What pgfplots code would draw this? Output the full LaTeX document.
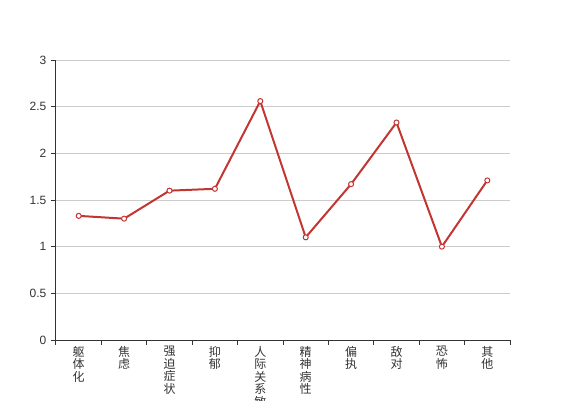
\documentclass[border=0pt]{standalone}
\usepackage{pgfplots}
\pgfplotsset{compat=1.18}
\usepackage{fontspec}
\setmainfont{Liberation Sans}
\newfontfamily\cjk{Noto Sans CJK SC}
\definecolor{ecred}{HTML}{C23531}
\definecolor{axgray}{HTML}{333333}
\definecolor{gridgray}{HTML}{CCCCCC}

\begin{document}
\begin{tikzpicture}[x=1pt,y=1pt]
\path[use as bounding box] (-42,-45) rectangle (383.25,255);
\clip (-42,-45) rectangle (383.25,255);
\begin{axis}[at={(0,0)}, anchor=south west,
  scale only axis, width=340.5pt, height=210pt,
  xmin=0, xmax=10, ymin=0, ymax=3,
  axis x line*=bottom, axis y line*=left,
  axis line style={axgray, line width=0.75pt},
  xtick={0,1,...,10}, xticklabels={},
  extra x ticks={0.5,1.5,...,9.5},
  extra x tick labels={躯\\体\\化, 焦\\虑, 强\\迫\\症\\状, 抑\\郁, 人\\际\\关\\系\\敏\\感,
    精\\神\\病\\性, 偏\\执, 敌\\对, 恐\\怖, 其\\他},
  extra x tick style={major tick length=0pt,
    xticklabel style={font=\cjk\fontsize{9}{9.4}\selectfont, align=center, text=axgray, yshift=-1pt}},
  ytick={0,0.5,...,3},
  yticklabel style={font=\fontsize{9}{10}\selectfont, text=axgray},
  tick style={axgray, line width=0.75pt},
  major tick length=3.75pt,
  tick align=outside,
  /pgf/number format/assume math mode=true,
  ymajorgrids, major grid style={gridgray, line width=0.75pt},
  clip=false]
\addplot[ecred, line width=1.5pt, mark=*, mark size=1.9pt,
  mark options={fill=white, draw=ecred, line width=0.75pt}] coordinates
  {(0.5,1.33)(1.5,1.30)(2.5,1.60)(3.5,1.62)(4.5,2.56)(5.5,1.10)(6.5,1.67)(7.5,2.33)(8.5,1.00)(9.5,1.71)};
\end{axis}
\end{tikzpicture}
\end{document}
